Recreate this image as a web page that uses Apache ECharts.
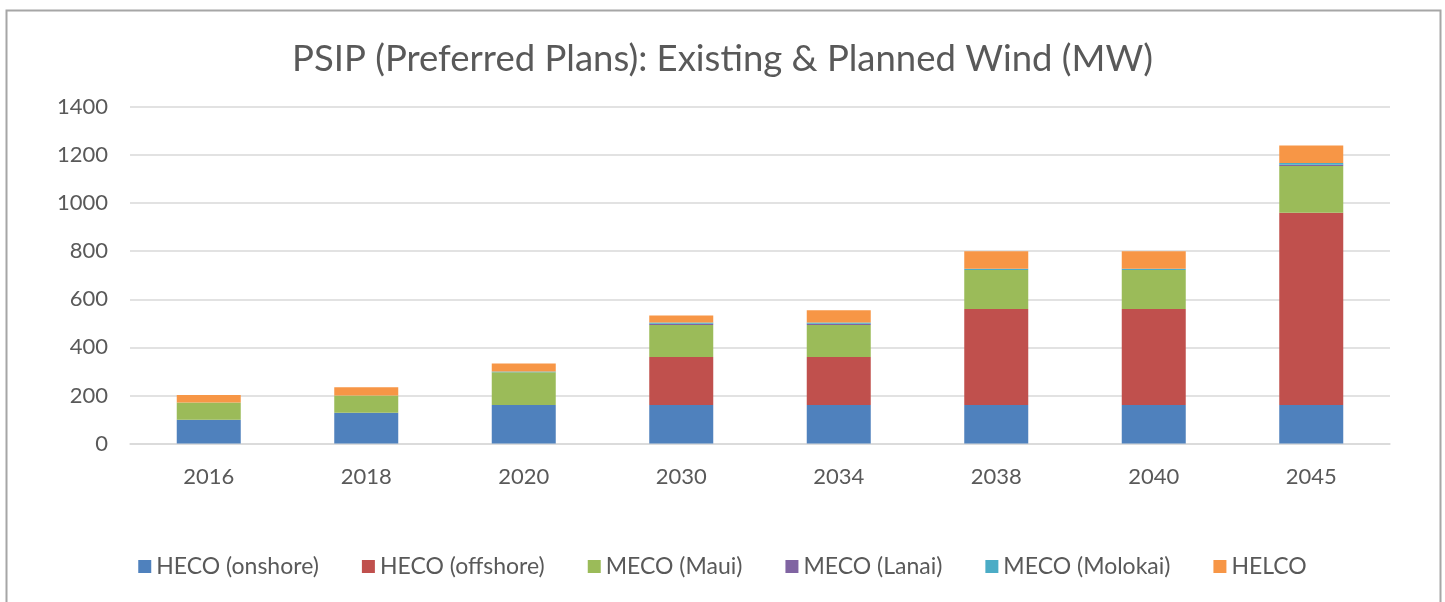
<!DOCTYPE html>
<html>
<head>
<meta charset="utf-8">
<script src="https://cdn.jsdelivr.net/npm/echarts@6/dist/echarts.min.js"></script>
<style>
  html, body { margin: 0; padding: 0; background: #fff; }
  #chart { width: 1445px; height: 602px; }
</style>
</head>
<body>
<div id="chart"></div>
<script>
const years = ['2016', '2018', '2020', '2030', '2034', '2038', '2040', '2045']
const hecoOnshore = [99, 128, 160, 160, 160, 160, 160, 160]
const hecoOffshore = [0, 0, 0, 200, 200, 400, 400, 800]
const mecoMaui = [72, 72, 136, 133, 133, 162, 162, 195]
const mecoLanai = [0, 0, 0, 5, 5, 0, 0, 5]
const mecoMolokai = [0, 0, 4, 5, 5, 5, 5, 7]
const helco = [31, 34, 33, 30, 51, 73, 73, 73]

const seriesDefs = [
    { name: 'HECO (onshore)', data: hecoOnshore, color: '#4F81BD' },
    { name: 'HECO (offshore)', data: hecoOffshore, color: '#C0504D' },
    { name: 'MECO (Maui)', data: mecoMaui, color: '#9BBB59' },
    { name: 'MECO (Lanai)', data: mecoLanai, color: '#8064A2' },
    { name: 'MECO (Molokai)', data: mecoMolokai, color: '#4BACC6' },
    { name: 'HELCO', data: helco, color: '#F79646' },
]

const font = 'Lato, "Open Sans", sans-serif'
const chart = echarts.init(document.getElementById('chart'))

chart.setOption({
    animation: false,
    textStyle: { fontFamily: font },
    title: {
        text: 'PSIP (Preferred Plans): Existing & Planned Wind (MW)',
        left: 'center',
        top: 36,
        textStyle: { color: '#595959', fontSize: 36.5, fontWeight: 'normal', fontFamily: font },
    },
    graphic: [{
        type: 'rect',
        shape: { x: 6.5, y: 10.5, width: 1434, height: 640 },
        style: { fill: 'none', stroke: '#a6a6a6', lineWidth: 2 },
        silent: true,
    }],
    legend: {
        bottom: 19,
        left: 'center',
        itemWidth: 13,
        itemHeight: 13,
        itemGap: 43,
        icon: 'rect',
        textStyle: { color: '#595959', fontSize: 23, fontFamily: font },
    },
    grid: { left: 130, right: 55, top: 107, bottom: 158.5 },
    xAxis: {
        type: 'category',
        data: years,
        axisLine: { lineStyle: { color: '#d9d9d9', width: 1.5 } },
        axisTick: { show: false },
        axisLabel: { color: '#595959', fontSize: 22, margin: 22 },
    },
    yAxis: {
        type: 'value',
        min: 0,
        max: 1400,
        interval: 200,
        axisLine: { show: false },
        axisTick: { show: false },
        splitLine: { lineStyle: { color: '#d9d9d9', width: 1.5 } },
        axisLabel: { color: '#595959', fontSize: 22, margin: 22, formatter: v => String(v) },
    },
    series: seriesDefs.map(s => ({
        name: s.name,
        type: 'bar',
        stack: 'total',
        barWidth: 64,
        data: s.data,
        itemStyle: { color: s.color },
    })),
})
</script>
</body>
</html>
